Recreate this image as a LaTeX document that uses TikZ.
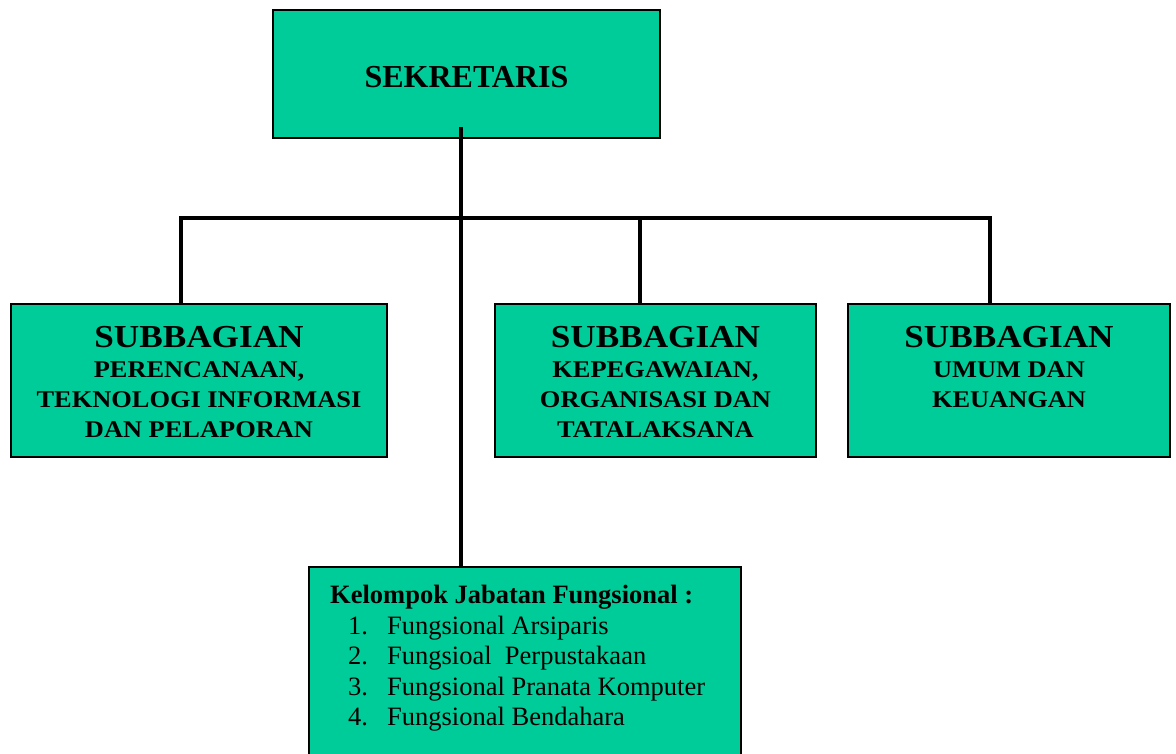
\documentclass[tikz,border=0pt]{standalone}
\usepackage{fontspec}
\setmainfont{Liberation Serif}
\newfontfamily\wideserif[FakeStretch=1.1]{Liberation Serif}
\definecolor{boxgreen}{RGB}{0,204,153}
\begin{document}
\begin{tikzpicture}[x=1pt,y=-1pt,
  box/.style={draw=black, line width=1.6pt, fill=boxgreen, inner sep=0pt, outer sep=0pt},
  conn/.style={draw=black, line width=4pt},
  titletext/.style={font=\bfseries\fontsize{32}{36}\selectfont, inner sep=0pt},
  subtext/.style={font=\wideserif\bfseries\fontsize{24}{30}\selectfont, align=center, inner sep=0pt, anchor=north},
  listtext/.style={font=\fontsize{26.5}{30.5}\selectfont, align=left, inner sep=0pt, anchor=north west},
]
\useasboundingbox (0,0) rectangle (1176,754);
% boxes
\node[box, minimum width=387pt, minimum height=128pt] (sek) at (466.5,74) {};
\node[titletext] (sekt) at (466.5,77.5) {SEKRETARIS};

\node[box, minimum width=376pt, minimum height=153pt] (b1) at (199,380.5) {};
\node[subtext] (b1t) at (199,326) {{\fontsize{32}{30}\selectfont\bfseries SUBBAGIAN}\\PERENCANAAN,\\TEKNOLOGI INFORMASI\\DAN PELAPORAN};

\node[box, minimum width=321pt, minimum height=153pt] (b2) at (655.5,380.5) {};
\node[subtext] (b2t) at (655.5,326) {{\fontsize{32}{30}\selectfont\bfseries SUBBAGIAN}\\KEPEGAWAIAN,\\ORGANISASI DAN\\TATALAKSANA};

\node[box, minimum width=322pt, minimum height=153pt] (b3) at (1009,380.5) {};
\node[subtext] (b3t) at (1009,326) {{\fontsize{32}{30}\selectfont\bfseries SUBBAGIAN}\\UMUM DAN\\KEUANGAN};

\node[box, minimum width=432pt, minimum height=222pt] (kjf) at (525,678) {};
\node[listtext] (kjft) at (330,585) {\textbf{Kelompok Jabatan Fungsional :}\\
\hspace*{18pt}\makebox[39pt][l]{1.}Fungsional Arsiparis\\
\hspace*{18pt}\makebox[39pt][l]{2.}Fungsioal\ \ Perpustakaan\\
\hspace*{18pt}\makebox[39pt][l]{3.}Fungsional Pranata Komputer\\
\hspace*{18pt}\makebox[39pt][l]{4.}Fungsional Bendahara};

% connectors
\coordinate (c0) at (461,127);
\coordinate (hl) at (181,218.5);
\coordinate (hm) at (640,218.5);
\coordinate (hr) at (990,218.5);
\draw[conn] (c0) -- (c0 |- kjf.north);
\draw[conn, line cap=rect] (hl) -- (hr);
\draw[conn] (hl) -- (hl |- b1.north);
\draw[conn] (hm) -- (hm |- b2.north);
\draw[conn] (hr) -- (hr |- b3.north);
\end{tikzpicture}
\end{document}
